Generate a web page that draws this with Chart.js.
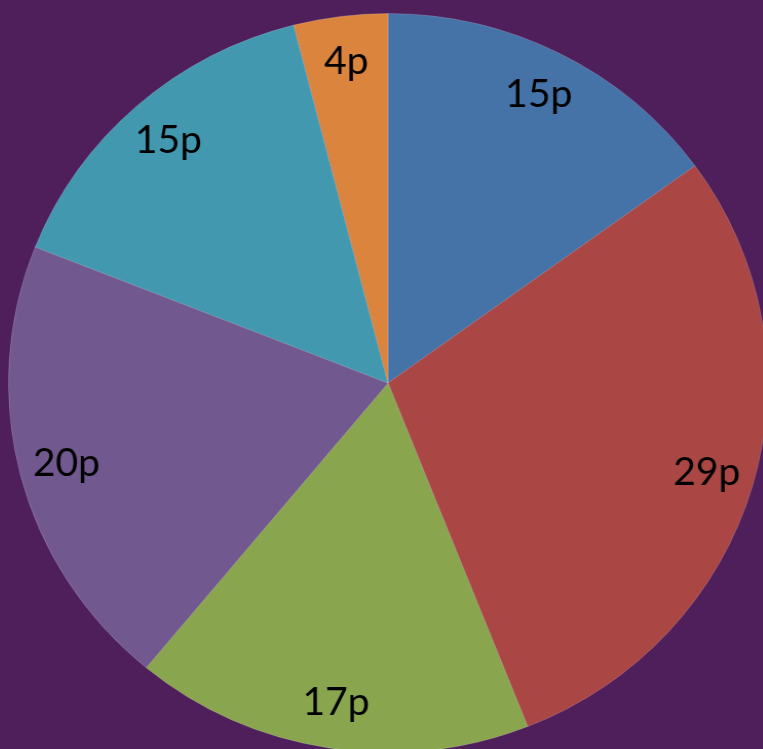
<!DOCTYPE html>
<html>
<head>
<meta charset="utf-8">
<script src="https://cdn.jsdelivr.net/npm/chart.js@4/dist/chart.umd.min.js"></script>
<style>
  html, body { margin: 0; padding: 0; background: #4f1f5c; overflow: hidden; }
  body { width: 763px; height: 749px; position: relative; }
  #wrap { position: absolute; left: 18px; top: 13px; width: 740px; height: 740px;
          transform: scaleX(1.027); transform-origin: 370px 370px; }
</style>
</head>
<body>
<div id="wrap"><canvas id="pie"></canvas></div>
<script>
// slices clockwise from 12 o'clock
const labels = ['A', 'B', 'C', 'D', 'E', 'F'];
const values = [15, 29, 17, 20, 15, 4];
const valueLabels = ['15p', '29p', '17p', '20p', '15p', '4p'];
const colors = ['#4572a7', '#aa4643', '#89a54e', '#71588f', '#4198af', '#db843d'];

// draw the "15p" style labels out near the rim
const sliceLabels = {
  id: 'sliceLabels',
  afterDatasetsDraw(chart) {
    const ctx = chart.ctx;
    const meta = chart.getDatasetMeta(0);
    ctx.save();
    ctx.font = '38px Lato';
    ctx.fillStyle = '#000';
    ctx.textAlign = 'center';
    ctx.textBaseline = 'middle';
    meta.data.forEach((arc, i) => {
      const p = arc.getProps(['x', 'y', 'startAngle', 'endAngle', 'outerRadius']);
      const mid = (p.startAngle + p.endAngle) / 2;
      const r = p.outerRadius * 0.875;
      ctx.fillText(valueLabels[i], p.x + Math.cos(mid) * r, p.y + Math.sin(mid) * r);
    });
    ctx.restore();
  }
};

new Chart(document.getElementById('pie'), {
  type: 'pie',
  data: {
    labels: labels,
    datasets: [{
      data: values,
      backgroundColor: colors,
      borderColor: 'rgba(255,255,255,0.18)',
      borderWidth: 1
    }]
  },
  options: {
    responsive: true,
    maintainAspectRatio: false,
    animation: false,
    layout: { padding: 0 },
    plugins: {
      legend: { display: false },
      tooltip: { enabled: false }
    }
  },
  plugins: [sliceLabels]
});
</script>
</body>
</html>
